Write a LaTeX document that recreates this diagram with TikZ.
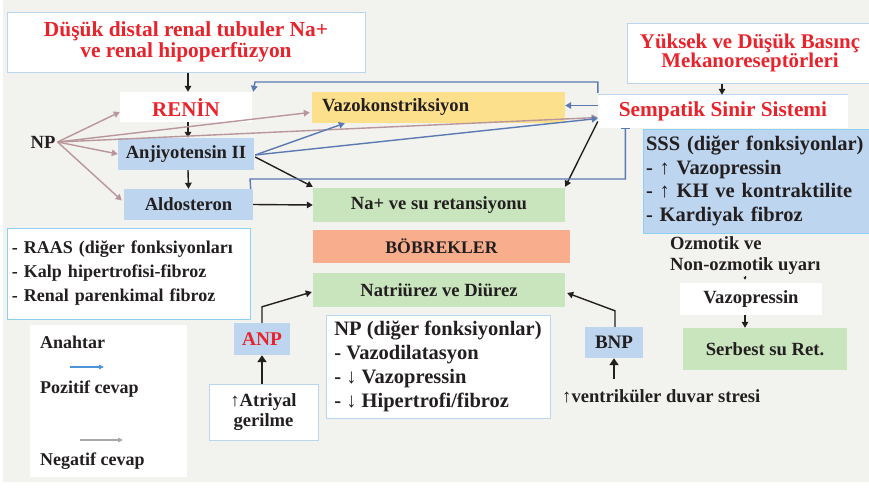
\documentclass[tikz,border=0pt]{standalone}
\usepackage{fontspec}
\setmainfont{Liberation Serif}
\usetikzlibrary{arrows.meta}
\definecolor{bgcol}{HTML}{F2F2EE}
\definecolor{frameblue}{HTML}{B9D6EE}
\definecolor{framecyan}{HTML}{8DD0F0}
\definecolor{fillblue}{HTML}{BDD5EE}
\definecolor{fillyellow}{HTML}{FDE08B}
\definecolor{fillgreen}{HTML}{C9E5BD}
\definecolor{fillsalmon}{HTML}{F8AE8D}
\definecolor{titlered}{HTML}{E8232B}
\definecolor{negpink}{HTML}{B9959C}
\definecolor{posblue}{HTML}{5B79B3}
\definecolor{keyblue}{HTML}{4C94D8}
\definecolor{keygray}{HTML}{A8A8A8}
\definecolor{inkdark}{HTML}{231F20}
\newcommand{\fs}[2]{\fontsize{#1}{#2}\selectfont}
\tikzset{
  x=1pt, y=-1pt,
  panel/.style={inner sep=0pt, font=\bfseries\fs{18.6}{20}, text=inkdark, align=center},
  whitebox/.style={panel, fill=white, draw=frameblue, line width=1pt},
  plainbox/.style={panel, fill=white},
  bluebox/.style={panel, fill=fillblue},
  greenbox/.style={panel, fill=fillgreen},
  tip/.style={-{Triangle[length=6pt,width=6.5pt]}},
  arrblack/.style={tip, line width=1.4pt, draw=inkdark},
  arrthick/.style={-{Triangle[length=7pt,width=9pt]}, line width=2.6pt, draw=inkdark},
  arrpos/.style={tip, line width=1.4pt, draw=posblue},
  arrneg/.style={tip, line width=1.4pt, draw=negpink},
  label/.style={inner sep=0pt, font=\bfseries\fs{18.6}{20}, text=inkdark},
  keytext/.style={label, anchor=west, font=\bfseries\fs{18}{20}},
}
\begin{document}
\begin{tikzpicture}
% canvas
\useasboundingbox (0,0) rectangle (869,490);
\fill[white] (0,0) rectangle (869,490);
\fill[bgcol] (3,0) rectangle (869,482);

% --- upper left cascade ---
\node[whitebox, minimum width=358pt, minimum height=60pt, text=titlered,
      font=\bfseries\fs{21.4}{20.5}] (cause) at (186,42)
      {Düşük distal renal tubuler Na+\\ve renal hipoperfüzyon};
\node[plainbox, minimum width=132pt, minimum height=30pt, text=titlered,
      font=\bfseries\fs{21}{22}] (renin) at (186,107) {RENİN};
\node[bluebox, minimum width=136pt, minimum height=32pt] (ang) at (186,154) {Anjiyotensin II};
\node[bluebox, minimum width=129pt, minimum height=31pt] (aldo) at (188.5,204.5) {Aldosteron};
\node[label] (np) at (43,142) {NP};

% --- central column ---
\node[panel, fill=fillyellow, minimum width=253pt, minimum height=31pt,
      text width=233pt, align=left] (vazo) at (438.5,107.5) {Vazokonstriksiyon};
\node[greenbox, minimum width=252pt, minimum height=34pt] (na) at (439,205) {Na+ ve su retansiyonu};
\node[panel, fill=fillsalmon, minimum width=257pt, minimum height=33pt,
      font=\bfseries\fs{17.7}{20}] (bob) at (441.5,246.5) {BÖBREKLER};
\node[greenbox, minimum width=252pt, minimum height=34pt] (natr) at (439,290) {Natriürez ve Diürez};

% --- right column ---
\node[whitebox, minimum width=246pt, minimum height=60pt, text=titlered,
      font=\bfseries\fs{20.9}{19.5}] (mech) at (750,53) {Yüksek ve Düşük Basınç\\Mekanoreseptörleri};
\node[plainbox, minimum width=250pt, minimum height=33pt, text=titlered,
      font=\bfseries\fs{21.3}{22}] (semp) at (723,111.5) {Sempatik Sinir Sistemi};
\draw[frameblue, line width=1pt] (semp.north west) -- (semp.north east);
\node[panel, fill=fillblue, draw=framecyan, line width=1pt, minimum width=228pt, minimum height=104pt,
      text width=222pt, align=left, font=\bfseries\fs{20.5}{23.8}] (sss) at (757,181)
      {SSS (diğer fonksiyonlar)\\- ↑ Vazopressin\\- ↑ KH ve kontraktilite\\- Kardiyak fibroz};
\node[label, align=left, font=\bfseries\fs{18.6}{21}, anchor=west] (ozm) at (670,255.5)
      {Ozmotik ve\\Non-ozmotik uyarı};
\node[plainbox, minimum width=142pt, minimum height=32pt] (vazop) at (751,299) {Vazopressin};
\node[greenbox, minimum width=164pt, minimum height=42pt] (serb) at (765,349) {Serbest su Ret.};

% --- lower part ---
\node[panel, fill=white, draw=framecyan, line width=1pt, minimum width=243pt, minimum height=91pt,
      text width=233pt, align=left, font=\bfseries\fs{18}{24}] (raas) at (128.5,273.5)
      {- RAAS (diğer fonksiyonları\\- Kalp hipertrofisi-fibroz\\- Renal parenkimal fibroz};
\node[bluebox, minimum width=56pt, minimum height=32pt, text=titlered, font=\bfseries\fs{19.4}{20}] (anp) at (262,339) {ANP};
\node[whitebox, minimum width=109pt, minimum height=56pt, font=\bfseries\fs{18.6}{20.5}] (atr) at (263.5,412) {↑Atriyal\\gerilme};
\node[whitebox, minimum width=224pt, minimum height=103pt, align=left,
      font=\bfseries\fs{20.5}{24}] (npf) at (438,366.5)
      {NP (diğer fonksiyonlar)\\- Vazodilatasyon\\- ↓ Vazopressin\\- ↓ Hipertrofi/fibroz};
\node[bluebox, minimum width=58pt, minimum height=31pt, font=\bfseries\fs{19}{20}] (bnp) at (614,342.5) {BNP};
\node[label, anchor=west] (vent) at (562,396) {↑ventriküler duvar stresi};

% --- key ---
\node[plainbox, minimum width=157pt, minimum height=152pt] (key) at (108.5,401) {};
\node[keytext] (keyt) at (40,342) {Anahtar};
\node[keytext] (keyp) at (40,389) {Pozitif cevap};
\node[keytext] (keyn) at (40,461) {Negatif cevap};
\coordinate (kp1) at (70,367);  \coordinate (kp2) at (104,367);
\coordinate (kn1) at (80,440);  \coordinate (kn2) at (123,440);
\draw[-{Triangle[length=5pt,width=4.5pt]}, line width=1.6pt, keyblue] (kp1) -- (kp2);
\draw[-{Triangle[length=5pt,width=4.5pt]}, line width=1.6pt, keygray] (kn1) -- (kn2);

% --- cascade arrows ---
\draw[arrblack] ([xshift=2pt]cause.south) -- ([xshift=2pt]renin.north);
\draw[arrblack] ([xshift=2pt]renin.south) -- ([xshift=2pt]ang.north);
\draw[arrblack] ([xshift=2pt]ang.south) -- (aldo.north);

% --- natriuretic peptide inhibition ---
\draw[arrneg] ([xshift=2pt]np.east) -- ([yshift=-5pt]renin.west);
\draw[arrneg] ([xshift=2pt]np.east) -- (ang.west);
\draw[arrneg] ([xshift=2pt]np.east) -- ([xshift=-2pt,yshift=4pt]aldo.west);
\draw[arrneg] ([xshift=2pt]np.east) -- ([xshift=-2pt,yshift=-5pt]vazo.west);
\draw[arrneg] ([xshift=2pt]np.east) -- ([yshift=-6pt]semp.west);

% --- angiotensin II effects ---
\draw[arrpos] ([xshift=1pt,yshift=-1pt]ang.east) -- ([xshift=33pt]vazo.south west);
\draw[arrpos] ([xshift=1pt,yshift=-1pt]ang.east) -- ([yshift=-7pt]semp.west);
\draw[arrblack] ([xshift=1pt,yshift=-3pt]ang.east) -- ([yshift=1pt]na.north west);
\draw[arrblack] (aldo.east) -- (na.west);

% --- sympathetic effects ---
\draw[arrpos] ([yshift=6pt]semp.west) -- ([yshift=2pt]vazo.east);
\draw[arrpos] ([yshift=2pt]semp.north west) |- (255,82) -- ([xshift=1pt]renin.north east);
\draw[arrblack] ([yshift=-10pt]semp.west) -- ([yshift=1pt]na.north east);
\draw[posblue, line width=1.4pt] ([xshift=23pt]semp.south west) -- ++(9,0);
\draw[posblue, line width=1.4pt] ([xshift=27.5pt]semp.south west) |- (250,179) -- ([xshift=-2.5pt]aldo.north east);
\draw[arrblack] (mech.south -| semp.north) ++(-1,0) coordinate (mt) -- ([xshift=-1pt]semp.north);

% --- natriuretic peptides ---
\draw[arrthick] (atr.north -| anp.south) -- (anp.south);
\draw[arrblack] (anp.north) -- ++(0,-16) -- ([xshift=-1pt,yshift=-2pt]natr.west);
\draw[arrthick] ([yshift=10pt]vent.north -| bnp.south) -- (bnp.south);
\draw[arrblack] ([xshift=1pt]bnp.north) -- ++(0,-16) -- ([xshift=2pt,yshift=-3pt]natr.east);

% --- vasopressin ---
\draw[-{Triangle[length=3pt,width=3pt]}, line width=1pt, inkdark]
      ([xshift=-6pt,yshift=7pt]vazop.north) -- ([xshift=-6pt,yshift=3pt]vazop.north);
\draw[arrblack] ([xshift=-6pt]vazop.south) -- ([xshift=-6pt]vazop.south |- serb.north);
\end{tikzpicture}
\end{document}
